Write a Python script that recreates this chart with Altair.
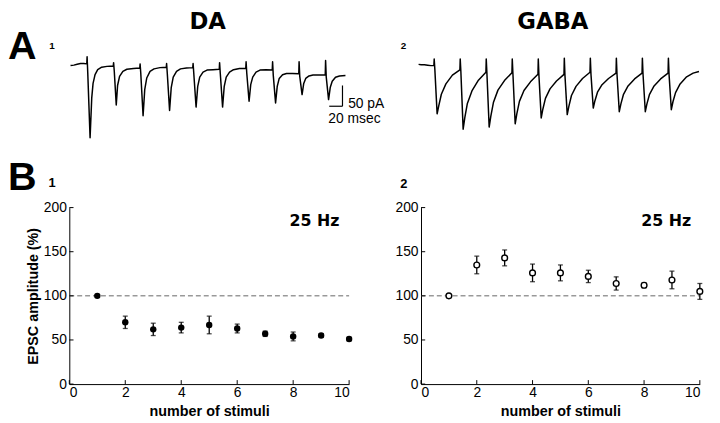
import altair as alt
import pandas as pd

# ---------------- data ----------------
# Panel A traces: time (ms, stimulus 1 at 0) and current (pA)
DA_T = [-25, -20, -15, -10, -5, -0.5,
        0, 1, 4.5, 7, 9, 12, 16, 22, 30, 39.5,
        40, 41, 44, 46, 49, 54, 60, 70, 79.5,
        80, 81, 84.5, 87, 90, 95, 101, 110, 119.5,
        120, 121, 124.5, 127, 130, 135, 141, 150, 159.5,
        160, 161, 164.5, 167, 170, 175, 181, 190, 199.5,
        200, 201, 204.5, 207, 210, 215, 221, 230, 239.5,
        240, 241, 244.5, 247, 250, 255, 261, 270, 279.5,
        280, 281, 284.5, 287, 290, 295, 301, 310, 319.5,
        320, 321, 324.5, 327, 330, 335, 341, 350, 359.5,
        360, 361, 364.5, 367, 370, 375, 381, 390]
DA_I = [-2, -1, 1, 3, 3, 2,
        19, -20, -176, -80, -45, -24, -12, -6, -4, -3,
        5, -15, -97, -50, -28, -16, -11, -9, -8,
        2, -20, -123, -60, -32, -16, -10, -7, -6,
        3, -20, -110, -55, -30, -16, -10, -8, -7,
        3, -20, -102, -52, -30, -18, -13, -12, -11,
        5, -20, -102, -52, -30, -18, -12, -9, -9,
        7, -20, -88, -48, -30, -18, -13, -12, -13,
        7, -25, -92, -52, -33, -24, -21, -21, -22,
        7, -28, -72, -45, -33, -27, -25, -25, -25,
        10, -30, -84, -55, -40, -30, -27, -26]

GABA_T = [-24, -20, -15, -10, -5, -0.5,
          0, 1, 4.5, 7, 11, 18, 28, 39.5,
          40, 41, 44.5, 47, 51, 58, 68, 79.5,
          80, 81, 84.5, 87, 91, 98, 108, 119.5,
          120, 121, 124.5, 127, 131, 138, 148, 159.5,
          160, 161, 164.5, 167, 171, 178, 188, 199.5,
          200, 201, 204.5, 207, 211, 218, 228, 239.5,
          240, 241, 244.5, 247, 251, 258, 268, 279.5,
          280, 281, 284.5, 287, 291, 298, 308, 319.5,
          320, 321, 324.5, 327, 331, 338, 348, 359.5,
          360, 361, 364.5, 367, 371, 378, 388, 398, 407]
GABA_I = [2, 1, 1, 0, -1, -1,
          15, -10, -117, -98, -70, -45, -24, -11,
          15, -15, -154, -127, -92, -62, -36, -17,
          15, -18, -149, -123, -90, -60, -37, -18,
          15, -20, -141, -117, -87, -61, -40, -22,
          15, -25, -127, -106, -80, -57, -38, -22,
          17, -25, -119, -99, -73, -51, -32, -17,
          17, -22, -103, -86, -65, -47, -32, -19,
          17, -22, -112, -93, -70, -50, -33, -19,
          17, -22, -112, -93, -70, -50, -33, -19,
          17, -22, -107, -88, -66, -45, -28, -19, -15]

# scale bar: 20 msec, 50 pA
BAR_T = [365.5, 385.5]
BAR_I = [-100, -50]

# Panel B: EPSC amplitude (%) vs number of stimuli
STIM = [1, 2, 3, 4, 5, 6, 7, 8, 9, 10]
DA_AMP = [100, 70, 62, 64, 67, 63, 57, 54, 55, 51]
DA_ERR = [1, 7, 7, 6, 10, 5, 3, 5, 2, 2]
GABA_AMP = [100, 135, 143, 126, 126, 122, 114, 112, 118, 105]
GABA_ERR = [1, 10, 9, 10, 9, 7, 7.5, 3, 10, 9]

X_TICKS = [0, 2, 4, 6, 8, 10]
Y_TICKS = [0, 50, 100, 150, 200]
REF_LEVEL = [100]

FONT = "Liberation Sans"
BOLD_WIDE = "DejaVu Sans"


def trace_layers(t, i, x_range, y_range, with_bar=False):
    xs = alt.Scale(domain=[-30, 410], range=x_range, nice=False, zero=False)
    ys = alt.Scale(domain=[-200, 20], range=y_range, nice=False, zero=False)
    df = pd.DataFrame({"t": t, "i": i})
    line = alt.Chart(df).mark_line(color="black", strokeWidth=1.5, strokeJoin="round").encode(
        x=alt.X("t:Q", scale=xs, axis=None),
        y=alt.Y("i:Q", scale=ys, axis=None),
    )
    layers = [line]
    if with_bar:
        bdf = pd.DataFrame({"t0": [BAR_T[0]], "t1": [BAR_T[1]], "i0": [BAR_I[0]], "i1": [BAR_I[1]]})
        hbar = alt.Chart(bdf).mark_rule(color="black", strokeWidth=1.2).encode(
            x=alt.X("t0:Q", scale=xs, axis=None), x2="t1:Q",
            y=alt.Y("i0:Q", scale=ys, axis=None))
        vbar = alt.Chart(bdf).mark_rule(color="black", strokeWidth=1.2).encode(
            x=alt.X("t1:Q", scale=xs, axis=None),
            y=alt.Y("i0:Q", scale=ys, axis=None), y2="i1:Q")
        layers += [hbar, vbar]
    return layers


def scatter_layers(vals, errs, filled, x_range, x_off, y_off, y_title):
    xs = alt.Scale(domain=[0, 10], range=x_range, nice=False, zero=False)
    ys = alt.Scale(domain=[0, 200], range=[378, 199.5], nice=False, zero=False)
    df = pd.DataFrame({"n": STIM, "v": vals, "e": errs})
    df["lo"] = df["v"] - df["e"]
    df["hi"] = df["v"] + df["e"]

    xaxis = alt.Axis(orient="bottom", offset=x_off, values=X_TICKS, title="number of stimuli",
                     ticks=False, labelPadding=2, titlePadding=5, format="d")
    yaxis = alt.Axis(orient="left", offset=y_off, values=Y_TICKS, title=y_title,
                     ticks=False, labelPadding=3, titlePadding=3, format="d")

    dash = alt.Chart(pd.DataFrame({"r": REF_LEVEL, "a": [0], "b": [10]})).mark_rule(
        color="#666666", strokeWidth=1, strokeDash=[5, 3]).encode(
        x=alt.X("a:Q", scale=xs, axis=None), x2="b:Q",
        y=alt.Y("r:Q", scale=ys, axis=None))
    xt = alt.Chart(pd.DataFrame({"k": X_TICKS, "z0": 0, "z1": 4.5})).mark_rule(
        color="black", strokeWidth=1).encode(
        x=alt.X("k:Q", scale=xs, axis=None),
        y=alt.Y("z0:Q", scale=ys, axis=None), y2="z1:Q")
    yt = alt.Chart(pd.DataFrame({"k": Y_TICKS, "z0": 0, "z1": 0.15})).mark_rule(
        color="black", strokeWidth=1).encode(
        y=alt.Y("k:Q", scale=ys, axis=None),
        x=alt.X("z0:Q", scale=xs, axis=None), x2="z1:Q")
    bars = alt.Chart(df).mark_rule(color="black", strokeWidth=1.3).encode(
        x=alt.X("n:Q", scale=xs, axis=None),
        y=alt.Y("lo:Q", scale=ys, axis=None), y2="hi:Q")
    caps_hi = alt.Chart(df).mark_tick(color="black", orient="horizontal", size=5, thickness=1.3).encode(
        x=alt.X("n:Q", scale=xs, axis=None),
        y=alt.Y("hi:Q", scale=ys, axis=None))
    caps_lo = alt.Chart(df).mark_tick(color="black", orient="horizontal", size=5, thickness=1.3).encode(
        x=alt.X("n:Q", scale=xs, axis=None),
        y=alt.Y("lo:Q", scale=ys, axis=None))
    if filled:
        pts = alt.Chart(df).mark_point(shape="circle", filled=True, color="black", size=42, opacity=1)
    else:
        pts = alt.Chart(df).mark_point(shape="circle", filled=True, fill="white", stroke="black",
                                       strokeWidth=1.4, size=34, opacity=1)
    pts = pts.encode(x=alt.X("n:Q", scale=xs, axis=xaxis), y=alt.Y("v:Q", scale=ys, axis=yaxis))
    return [dash, xt, yt, bars, caps_hi, caps_lo, pts]


def label(txt, x, y, size, font=FONT, weight="bold", align="center"):
    return alt.Chart(pd.DataFrame({"s": [txt]})).mark_text(
        font=font, fontSize=size, fontWeight=weight, align=align,
        baseline="alphabetic", color="black").encode(
        text="s:N", x=alt.value(x), y=alt.value(y))


layers = []
layers += trace_layers(DA_T, DA_I, [59.9, 354.7], [139, 46.6], with_bar=True)
layers += trace_layers(GABA_T, GABA_I, [411.3, 700.8], [139.5, 47.1])
layers += scatter_layers(DA_AMP, DA_ERR, True, [62, 345], -37, -62, "EPSC amplitude (%)")
layers += scatter_layers(GABA_AMP, GABA_ERR, False, [417.7, 699.7], -37, -417.7, "")
layers += [
    label("DA", 202, 19, 23, font=BOLD_WIDE),
    label("GABA", 551, 19, 23, font=BOLD_WIDE),
    label("A", 0, 49, 40, align="left"),
    label("B", 0, 182, 40, align="left"),
    label("1", 44.5, 38.7, 10),
    label("2", 400, 39, 10),
    label("1", 44.5, 179, 13),
    label("2", 400.3, 180, 13),
    label("25 Hz", 310, 218.5, 16, font=BOLD_WIDE),
    label("25 Hz", 665.7, 217.7, 16, font=BOLD_WIDE),
    label("50 pA", 344, 99, 14, weight="normal", align="left"),
    label("20 msec", 324, 114, 14, weight="normal", align="left"),
]

chart = alt.layer(*layers).resolve_scale(
    x="independent", y="independent"
).properties(
    width=712, height=415, padding=0, autosize=alt.AutoSizeParams(type="none"),
    background="white",
).configure_view(strokeWidth=0).configure_axis(
    grid=False, domainColor="black", domainWidth=1,
    labelFont=FONT, labelFontSize=14, labelColor="black",
    titleFont=FONT, titleFontSize=14.5, titleFontWeight="bold", titleColor="black",
)

chart.save("out.html", embed_options={"renderer": "svg", "actions": False})
